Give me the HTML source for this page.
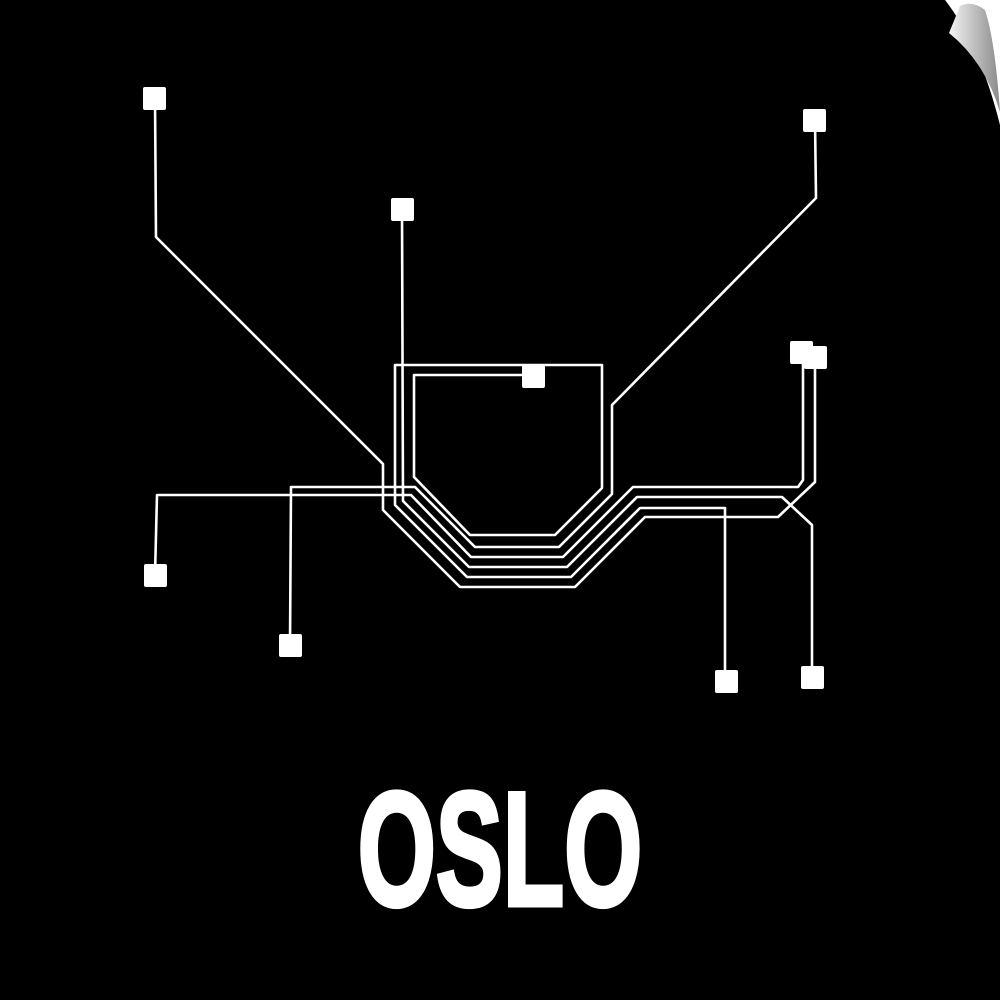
<!DOCTYPE html>
<html><head><meta charset="utf-8"><style>
html,body{margin:0;padding:0;background:#fff;}
svg{display:block}
.t{font-family:"Liberation Sans",sans-serif;font-weight:bold;fill:#fff;stroke:#fff;stroke-width:5}
</style></head><body>
<svg width="1000" height="1000" viewBox="0 0 1000 1000" xmlns="http://www.w3.org/2000/svg">
<defs><linearGradient id="g" x1="0" y1="0" x2="1" y2="0"><stop offset="0" stop-color="#f4f4f4"/><stop offset="1" stop-color="#8a8a8a"/></linearGradient></defs>
<rect width="1000" height="1000" fill="#fff"/>
<path d="M0,0 L945,0 Q980,45 1000,125 L1000,1000 L0,1000 Z" fill="#000"/>
<path d="M960,6 Q972,0 985,10 Q995,40 1000,112 Q985,62 949,33 Z" fill="url(#g)"/>
<g fill="none" stroke="#fff" stroke-width="2.6" stroke-linejoin="round" stroke-linecap="round">
<polyline points="155,98 156,237 383,464 383,510 460,587 575,587 645,517 778,517 815,482 815,357"/>
<polyline points="533,375 414,375 414,477 470,535 555,535 602,488 602,365 395,365 395,505 467,577 571,577 640,508 725,508 725,681"/>
<polyline points="402,209 403,501 469,567 567,567 637,497 782,497 812,525 812,677"/>
<polyline points="155,575 157,495 411,495 471,557 563,557 633,487 798,487 803,480 803,352"/>
<polyline points="290,645 291,487 415,487 475,547 559,547 612,494 612,405 816,198 815,120"/>
</g>
<g fill="#fff">
<rect x="143" y="87" width="23" height="23" rx="2"/>
<rect x="391" y="198" width="23" height="23" rx="2"/>
<rect x="803" y="109" width="23" height="23" rx="2"/>
<rect x="522" y="365" width="23" height="23" rx="2"/>
<rect x="790" y="341" width="23" height="23" rx="2"/>
<rect x="804" y="346" width="23" height="23" rx="2"/>
<rect x="144" y="564" width="23" height="23" rx="2"/>
<rect x="279" y="634" width="23" height="23" rx="2"/>
<rect x="715" y="670" width="23" height="23" rx="2"/>
<rect x="801" y="666" width="23" height="23" rx="2"/>
</g>
<text class="t" x="0" y="0" font-size="162" text-anchor="middle" transform="translate(500,905) scale(0.62,1)">OSLO</text>
</svg>
</body></html>
